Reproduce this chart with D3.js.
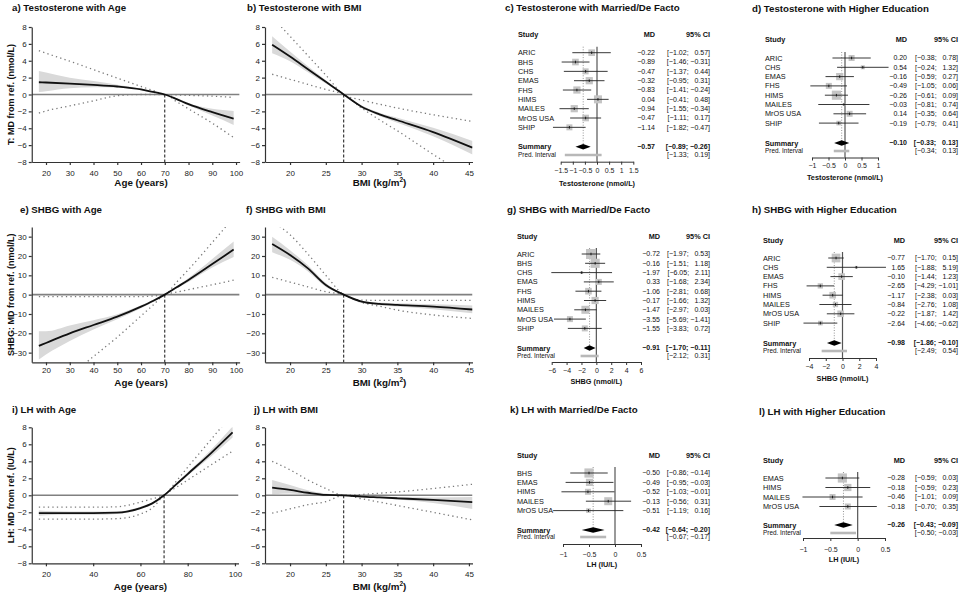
<!DOCTYPE html>
<html>
<head>
<meta charset="utf-8">
<script src="https://cdn.jsdelivr.net/npm/d3@7"></script>
<style>
  body { margin: 0; background: #fff; }
  svg { font-family: "Liberation Sans", Arial, sans-serif; }
</style>
</head>
<body>
<svg id="chart" width="960" height="593"></svg>
<script>
// ---- curve panels (a, b, e, f, i, j) ----
const ageX = [17, 20, 30, 40, 50, 60, 65, 70, 75, 80, 90, 99];
const bmiX = [17.5, 20, 22.5, 25, 27.5, 30, 32.5, 35, 40, 45.5];

const ageTicks = [20, 30, 40, 50, 60, 70, 80, 90, 100];
const ageTicksLH = [20, 40, 60, 80, 100];
const bmiTicks = [20, 25, 30, 35, 40, 45];
const tTicks = [-8, -6, -4, -2, 0, 2, 4, 6, 8];
const shbgTicks = [-30, -20, -10, 0, 10, 20, 30];

// a) Testosterone with Age
const tAgeMean   = [1.45, 1.42, 1.3, 1.15, 0.95, 0.6, 0.3, 0, -0.55, -1.15, -2.1, -2.85];
const tAgeLo     = [0.3, 0.4, 0.75, 0.85, 0.8, 0.5, 0.25, 0, -0.65, -1.3, -2.5, -3.6];
const tAgeHi     = [2.8, 2.6, 2.0, 1.6, 1.15, 0.7, 0.35, 0, -0.45, -1.0, -1.7, -1.95];
const tAgePredLo = [-2.2, -1.95, -1.35, -0.75, -0.15, 0, 0, 0, -0.85, -1.7, -3.4, -5.1];
const tAgePredHi = [5.2, 4.9, 3.95, 2.95, 1.95, 0.95, 0.48, 0, -0.05, -0.1, -0.2, -0.35];

// b) Testosterone with BMI
const tBmiMean   = [5.9, 4.5, 3.0, 1.5, 0, -1.45, -2.35, -3.05, -4.45, -6.3];
const tBmiLo     = [4.9, 3.95, 2.65, 1.3, 0, -1.55, -2.55, -3.35, -4.95, -7.1];
const tBmiHi     = [6.9, 5.1, 3.35, 1.7, 0, -1.3, -2.15, -2.75, -3.95, -5.5];
const tBmiPredLo = [2.4, 1.8, 1.2, 0.6, 0, -1.6, -3.0, -4.3, -7.1, -10];
const tBmiPredHi = [9.2, 6.9, 4.6, 2.3, 0, -0.65, -1.15, -1.6, -2.4, -3.2];

// e) SHBG with Age
const sAgeMean   = [-26.5, -25, -20, -15.7, -11.4, -6.2, -3.3, 0, 3.8, 7.6, 15.8, 23.3];
const sAgeLo     = [-33.5, -31, -24, -18, -12.7, -7, -3.8, 0, 3.2, 6.6, 14, 19.5];
const sAgeHi     = [-19, -19, -16, -13.3, -10.2, -5.5, -2.8, 0, 4.3, 8.6, 18.5, 27.5];
const sAgePredLo = [-55, -52, -42, -32, -22, -11, -5.5, 0, 1.3, 2.6, 5.1, 7.5];
const sAgePredHi = [-1, -1, -1, -1, -1, -1, -0.7, 0, 6.5, 13, 27, 40];

// f) SHBG with BMI
const sBmiMean   = [26.2, 20.5, 13.6, 5, 0, -3.6, -4.8, -5.3, -6.2, -7.7];
const sBmiLo     = [22, 18, 12, 4, 0, -4.1, -5.5, -6.1, -7.5, -9.6];
const sBmiHi     = [30, 23, 15.2, 6, 0, -3.1, -4.1, -4.5, -5, -5.6];
const sBmiPredLo = [9, 6.5, 4, 1.5, 0, -4, -6, -8, -10.5, -12.3];
const sBmiPredHi = [38, 31, 21, 10, 0, -2.8, -3, -3, -3, -3];

// i) LH with Age
const lAgeMean   = [-2.1, -2.1, -2.1, -2.1, -2.05, -1.5, -0.95, 0, 1.25, 2.5, 5.0, 7.4];
const lAgeLo     = [-2.4, -2.35, -2.3, -2.3, -2.2, -1.65, -1.05, 0, 1.1, 2.3, 4.6, 6.8];
const lAgeHi     = [-1.8, -1.85, -1.9, -1.9, -1.9, -1.35, -0.85, 0, 1.4, 2.7, 5.4, 8.1];
const lAgePredLo = [-2.8, -2.8, -2.8, -2.8, -2.75, -2.2, -1.5, 0, 0.9, 1.8, 3.6, 5.2];
const lAgePredHi = [-1.4, -1.4, -1.4, -1.4, -1.35, -0.8, -0.4, 0, 1.6, 3.3, 6.6, 9.6];

// j) LH with BMI
const lBmiMean   = [0.9, 0.63, 0.3, 0.05, 0, -0.15, -0.25, -0.35, -0.55, -0.8];
const lBmiLo     = [0.1, 0.2, 0.05, -0.1, 0, -0.2, -0.35, -0.5, -0.9, -1.6];
const lBmiHi     = [1.8, 1.2, 0.6, 0.2, 0, -0.1, -0.15, -0.2, -0.25, -0.2];
const lBmiPredLo = [-2.1, -1.6, -1.1, -0.75, 0, -0.4, -0.8, -1.2, -2, -2.9];
const lBmiPredHi = [4, 3, 1.8, 0.8, 0, 0.1, 0.25, 0.4, 0.8, 1.3];

// ---- forest panels (c, d, g, h, k, l) ----
const cStudies = ['ARIC', 'BHS', 'CHS', 'EMAS', 'FHS', 'HIMS', 'MAILES', 'MrOS USA', 'SHIP'];
const cMd = [-0.22, -0.89, -0.47, -0.32, -0.83, 0.04, -0.94, -0.47, -1.14];
const cLo = [-1.02, -1.46, -1.37, -0.95, -1.41, -0.41, -1.55, -1.11, -1.82];
const cHi = [0.57, -0.31, 0.44, 0.31, -0.24, 0.48, -0.34, 0.17, -0.47];
const cW  = [11, 11, 9, 13, 13, 16, 13, 11, 9];
const cSummary = [-0.57, -0.89, -0.26];
const cPred = [-1.33, 0.19];
const cTicks = [-1.5, -1, -0.5, 0, 0.5, 1, 1.5];

const dStudies = ['ARIC', 'CHS', 'EMAS', 'FHS', 'HIMS', 'MAILES', 'MrOS USA', 'SHIP'];
const dMd = [0.20, 0.54, -0.16, -0.49, -0.26, -0.03, 0.14, -0.19];
const dLo = [-0.38, -0.24, -0.59, -1.05, -0.61, -0.81, -0.35, -0.79];
const dHi = [0.78, 1.32, 0.27, 0.06, 0.09, 0.74, 0.64, 0.41];
const dW  = [9, 4, 13, 9, 21, 2, 9, 5.5];
const dSummary = [-0.10, -0.33, 0.13];
const dPred = [-0.34, 0.13];
const dTicks = [-1, -0.5, 0, 0.5, 1];

const gStudies = ['ARIC', 'BHS', 'CHS', 'EMAS', 'FHS', 'HIMS', 'MAILES', 'MrOS USA', 'SHIP'];
const gMd = [-0.72, -0.16, -1.97, 0.33, -1.06, -0.17, -1.47, -3.55, -1.55];
const gLo = [-1.97, -1.51, -6.05, -1.68, -2.81, -1.66, -2.97, -5.69, -3.83];
const gHi = [0.53, 1.18, 2.11, 2.34, 0.68, 1.32, 0.03, -1.41, 0.72];
const gW  = [25, 21, 2, 9, 11, 13, 16, 9, 9];
const gSummary = [-0.91, -1.70, -0.11];
const gPred = [-2.12, 0.31];
const gTicks = [-6, -4, -2, 0, 2, 4, 6];

const hStudies = ['ARIC', 'CHS', 'EMAS', 'FHS', 'HIMS', 'MAILES', 'MrOS USA', 'SHIP'];
const hMd = [-0.77, 1.65, -0.10, -2.65, -1.17, -0.84, -0.22, -2.64];
const hLo = [-1.70, -1.88, -1.44, -4.29, -2.38, -2.76, -1.87, -4.66];
const hHi = [0.15, 5.19, 1.23, -1.01, 0.03, 1.08, 1.42, -0.62];
const hW  = [19, 2, 11, 7, 11, 7, 11, 5.5];
const hSummary = [-0.98, -1.86, -0.10];
const hPred = [-2.49, 0.54];
const hTicks = [-4, -2, 0, 2, 4];

const kStudies = ['BHS', 'EMAS', 'HIMS', 'MAILES', 'MrOS USA'];
const kMd = [-0.50, -0.49, -0.52, -0.13, -0.51];
const kLo = [-0.86, -0.95, -1.03, -0.56, -1.19];
const kHi = [-0.14, -0.03, -0.01, 0.31, 0.16];
const kW  = [21, 13, 9, 16, 5.5];
const kSummary = [-0.42, -0.64, -0.20];
const kPred = [-0.67, -0.17];
const kTicks = [-1, -0.5, 0, 0.5];

const lStudies = ['EMAS', 'HIMS', 'MAILES', 'MrOS USA'];
const lMd = [-0.28, -0.18, -0.46, -0.18];
const lLo = [-0.59, -0.59, -1.01, -0.70];
const lHi = [0.03, 0.23, 0.09, 0.35];
const lW  = [21, 13, 9, 9];
const lSummary = [-0.26, -0.43, -0.09];
const lPred = [-0.50, -0.03];
const lTicks = [-1, -0.5, 0, 0.5];

const svg = d3.select('#chart');
const defs = svg.append('defs');
const TITLE_FS = 9.7;

function title(x, y, txt) {
    svg.append('text')
        .attr('x', x).attr('y', y).attr('dy', '0.35em')
        .attr('font-size', TITLE_FS).attr('font-weight', 'bold')
        .attr('fill', '#111')
        .text(txt);
}

function curvePanel(p) {
    const x = d3.scaleLinear().domain(p.xDom).range(p.xRange);
    const y = d3.scaleLinear().domain(p.yDom).range(p.yRange);
    const g = svg.append('g');

    title(p.titleX, p.titleY, p.title);

    defs.append('clipPath').attr('id', 'clip-' + p.id)
        .append('rect')
        .attr('x', p.xRange[0]).attr('y', p.yRange[1])
        .attr('width', p.xRange[1] - p.xRange[0])
        .attr('height', p.yRange[0] - p.yRange[1]);

    const rows = p.xs.map((v, i) => ({
        x: v, m: p.mean[i], lo: p.lo[i], hi: p.hi[i], plo: p.predLo[i], phi: p.predHi[i]
    }));

    const plot = g.append('g').attr('clip-path', `url(#clip-${p.id})`);

    const area = d3.area()
        .x(d => x(d.x)).y0(d => y(d.lo)).y1(d => y(d.hi))
        .curve(d3.curveMonotoneX);
    plot.append('path').datum(rows).attr('d', area).attr('fill', '#d9d9d9');

    // zero reference
    plot.append('line')
        .attr('x1', p.xRange[0]).attr('x2', p.xRange[1])
        .attr('y1', y(0)).attr('y2', y(0))
        .attr('stroke', '#808080').attr('stroke-width', 1.6);

    const lineOf = key => d3.line().x(d => x(d.x)).y(d => y(d[key])).curve(d3.curveMonotoneX);

    ['plo', 'phi'].forEach(k => {
        plot.append('path').datum(rows).attr('d', lineOf(k))
            .attr('fill', 'none').attr('stroke', '#7a7a7a')
            .attr('stroke-width', 1.3).attr('stroke-dasharray', '1.3,3.2');
    });

    // reference value (dashed)
    g.append('line')
        .attr('x1', x(p.ref)).attr('x2', x(p.ref))
        .attr('y1', y(0)).attr('y2', p.yRange[0])
        .attr('stroke', '#111').attr('stroke-width', 1)
        .attr('stroke-dasharray', '3,2');

    plot.append('path').datum(rows).attr('d', lineOf('m'))
        .attr('fill', 'none').attr('stroke', '#111').attr('stroke-width', 1.8);

    // axes
    const xAxis = g.append('g')
        .attr('transform', `translate(0,${p.yRange[0]})`)
        .call(d3.axisBottom(x).tickValues(p.xTicks).tickSize(3).tickSizeOuter(0).tickPadding(p.xPad));
    const yAxis = g.append('g')
        .attr('transform', `translate(${p.xRange[0]},0)`)
        .call(d3.axisLeft(y).tickValues(p.yTicks).tickSize(3).tickSizeOuter(0).tickPadding(2));
    [xAxis, yAxis].forEach(a => {
        a.selectAll('path, line').attr('stroke', '#333').attr('stroke-width', 1.2);
        a.selectAll('text').attr('font-size', 8).attr('fill', '#222')
            .attr('font-family', '"Liberation Sans", Arial, sans-serif');
    });

    const xl = g.append('text')
        .attr('x', (x(p.xTicks[0]) + x(p.xTicks[p.xTicks.length - 1])) / 2)
        .attr('y', p.xLabelY).attr('dy', '0.35em')
        .attr('text-anchor', 'middle').attr('font-size', 9.8).attr('font-weight', 'bold').attr('fill', '#111');
    if (p.bmi) {
        xl.append('tspan').text('BMI (kg/m');
        xl.append('tspan').attr('dy', -4).attr('font-size', 6.5).text('2');
        xl.append('tspan').attr('dy', 4).text(')');
    } else {
        xl.text(p.xLabel);
    }

    if (p.yLabel) {
        g.append('text')
            .attr('transform', `translate(14,${(p.yRange[0] + p.yRange[1]) / 2}) rotate(-90)`)
            .attr('text-anchor', 'middle').attr('font-size', 9).attr('font-weight', 'bold')
            .attr('fill', '#111')
            .text(p.yLabel);
    }
}

const fmt = d3.format('.2f');
const posPad = v => (v >= 0 ? '\u2007' : '') + fmt(v);
const ci = (a, b) => `[${fmt(a)}; ${posPad(b)}]`;
const sqSize = d3.scaleSqrt().domain([0, 25]).range([0, 10]);

function forestPanel(p) {
    const x = d3.scaleLinear().domain(p.dom).range(p.range);
    const g = svg.append('g').attr('fill', '#111');
    const fs = 7.3;
    const rowY = i => p.row0 + i * p.step;
    const top = rowY(0) - 6;

    title(p.titleX, p.titleY, p.title);

    const hdr = g.append('g').attr('font-size', fs).attr('font-weight', 'bold');
    hdr.append('text').attr('x', p.studyX).attr('y', p.headerY).attr('dy', '0.35em').text('Study');
    hdr.append('text').attr('x', p.mdRight).attr('y', p.headerY).attr('dy', '0.35em')
        .attr('text-anchor', 'end').text('MD');
    hdr.append('text').attr('x', p.ciRight).attr('y', p.headerY).attr('dy', '0.35em')
        .attr('text-anchor', 'end').text('95% CI');

    // no-effect line and summary dotted line
    g.append('line')
        .attr('x1', x(0)).attr('x2', x(0)).attr('y1', top).attr('y2', p.axisY)
        .attr('stroke', '#555').attr('stroke-width', 1.2);
    g.append('line')
        .attr('x1', x(p.summary[0])).attr('x2', x(p.summary[0]))
        .attr('y1', top).attr('y2', p.sumY)
        .attr('stroke', '#888').attr('stroke-width', 0.9).attr('stroke-dasharray', '1,1.6');

    const rows = p.studies.map((s, i) => ({
        s, md: p.md[i], lo: p.lo[i], hi: p.hi[i], w: p.w[i], y: rowY(i)
    }));

    const row = g.selectAll('.study').data(rows).enter().append('g').attr('class', 'study');
    row.append('rect')
        .attr('x', d => x(d.md) - sqSize(d.w) / 2)
        .attr('y', d => d.y - sqSize(d.w) / 2)
        .attr('width', d => sqSize(d.w)).attr('height', d => sqSize(d.w))
        .attr('fill', '#c4c4c4');
    row.append('line')
        .attr('x1', d => x(d.lo)).attr('x2', d => x(d.hi))
        .attr('y1', d => d.y).attr('y2', d => d.y)
        .attr('stroke', '#222').attr('stroke-width', 0.9);
    row.append('line')
        .attr('x1', d => x(d.md)).attr('x2', d => x(d.md))
        .attr('y1', d => d.y - 1.3).attr('y2', d => d.y + 1.3)
        .attr('stroke', '#111').attr('stroke-width', 0.9);
    row.append('text')
        .attr('x', p.studyX).attr('y', d => d.y).attr('dy', '0.35em')
        .attr('font-size', fs).text(d => d.s);
    row.append('text')
        .attr('x', p.mdRight).attr('y', d => d.y).attr('dy', '0.35em')
        .attr('text-anchor', 'end').attr('font-size', 7).text(d => fmt(d.md));
    row.append('text')
        .attr('x', p.ciRight).attr('y', d => d.y).attr('dy', '0.35em')
        .attr('text-anchor', 'end').attr('font-size', 7).text(d => ci(d.lo, d.hi));

    // summary diamond
    const [sm, sl, sh] = p.summary;
    g.append('path')
        .attr('d', `M${x(sl)},${p.sumY} L${x(sm)},${p.sumY - 2.8} L${x(sh)},${p.sumY} L${x(sm)},${p.sumY + 2.8} Z`)
        .attr('fill', '#000');
    g.append('text').attr('x', p.studyX).attr('y', p.sumY).attr('dy', '0.35em')
        .attr('font-size', fs).attr('font-weight', 'bold').text('Summary');
    g.append('text').attr('x', p.mdRight).attr('y', p.sumY).attr('dy', '0.35em')
        .attr('text-anchor', 'end').attr('font-size', 7).attr('font-weight', 'bold').text(fmt(sm));
    g.append('text').attr('x', p.ciRight).attr('y', p.sumY).attr('dy', '0.35em')
        .attr('text-anchor', 'end').attr('font-size', 7).attr('font-weight', 'bold').text(ci(sl, sh));

    // prediction interval
    g.append('line')
        .attr('x1', x(p.pred[0])).attr('x2', x(p.pred[1]))
        .attr('y1', p.predY).attr('y2', p.predY)
        .attr('stroke', '#b8b8b8').attr('stroke-width', 2.6);
    g.append('text').attr('x', p.studyX).attr('y', p.predY).attr('dy', '0.35em')
        .attr('font-size', 6.4).text('Pred. Interval');
    g.append('text').attr('x', p.ciRight).attr('y', p.predY).attr('dy', '0.35em')
        .attr('text-anchor', 'end').attr('font-size', 7).text(ci(p.pred[0], p.pred[1]));

    const ax = g.append('g')
        .attr('transform', `translate(0,${p.axisY})`)
        .call(d3.axisBottom(x).tickValues(p.ticks).tickSize(3).tickSizeOuter(0)
            .tickPadding(p.tickPad).tickFormat(d3.format('')));
    ax.selectAll('path, line').attr('stroke', '#333').attr('stroke-width', 1);
    ax.selectAll('text').attr('font-size', 7).attr('fill', '#222')
        .attr('font-family', '"Liberation Sans", Arial, sans-serif');

    g.append('text')
        .attr('x', (p.range[0] + p.range[1]) / 2).attr('y', p.axLabY).attr('dy', '0.35em')
        .attr('text-anchor', 'middle').attr('font-size', fs).attr('font-weight', 'bold')
        .text(p.axLabel);
}

// curve panel layouts
const ageDom = [14, 101.5], ageRange = [31.75, 239.6];
const bmiDom = [16.5, 45.5], bmiRange = [265, 472.5];

curvePanel({ id: 'a', title: 'a) Testosterone with Age', titleX: 12, titleY: 8,
    xs: ageX, mean: tAgeMean, lo: tAgeLo, hi: tAgeHi, predLo: tAgePredLo, predHi: tAgePredHi,
    xDom: ageDom, xRange: ageRange, yDom: [-8, 8], yRange: [162, 27],
    xTicks: ageTicks, yTicks: tTicks, ref: 70, xPad: 5, xLabelY: 183,
    xLabel: 'Age (years)', yLabel: 'T: MD from ref. (nmol/L)' });

curvePanel({ id: 'b', title: 'b) Testosterone with BMI', titleX: 247, titleY: 8,
    xs: bmiX, mean: tBmiMean, lo: tBmiLo, hi: tBmiHi, predLo: tBmiPredLo, predHi: tBmiPredHi,
    xDom: bmiDom, xRange: bmiRange, yDom: [-8, 8], yRange: [162, 27],
    xTicks: bmiTicks, yTicks: tTicks, ref: 27.5, xPad: 5, xLabelY: 183, bmi: true });

curvePanel({ id: 'e', title: 'e) SHBG with Age', titleX: 20, titleY: 210,
    xs: ageX, mean: sAgeMean, lo: sAgeLo, hi: sAgeHi, predLo: sAgePredLo, predHi: sAgePredHi,
    xDom: ageDom, xRange: ageRange, yDom: [-35, 35], yRange: [362.3, 227],
    xTicks: ageTicks, yTicks: shbgTicks, ref: 70, xPad: 2, xLabelY: 383,
    xLabel: 'Age (years)', yLabel: 'SHBG: MD from ref. (nmol/L)' });

curvePanel({ id: 'f', title: 'f) SHBG with BMI', titleX: 246, titleY: 210,
    xs: bmiX, mean: sBmiMean, lo: sBmiLo, hi: sBmiHi, predLo: sBmiPredLo, predHi: sBmiPredHi,
    xDom: bmiDom, xRange: bmiRange, yDom: [-35, 35], yRange: [362.3, 227],
    xTicks: bmiTicks, yTicks: shbgTicks, ref: 27.5, xPad: 2, xLabelY: 383, bmi: true });

curvePanel({ id: 'i', title: 'i) LH with Age', titleX: 12, titleY: 410,
    xs: ageX, mean: lAgeMean, lo: lAgeLo, hi: lAgeHi, predLo: lAgePredLo, predHi: lAgePredHi,
    xDom: ageDom, xRange: [31.75, 238.5], yDom: [-8, 8], yRange: [563.3, 427.3],
    xTicks: ageTicksLH, yTicks: tTicks, ref: 70, xPad: 5, xLabelY: 587,
    xLabel: 'Age (years)', yLabel: 'LH: MD from ref. (IU/L)' });

curvePanel({ id: 'j', title: 'j) LH with BMI', titleX: 254, titleY: 410,
    xs: bmiX, mean: lBmiMean, lo: lBmiLo, hi: lBmiHi, predLo: lBmiPredLo, predHi: lBmiPredHi,
    xDom: bmiDom, xRange: bmiRange, yDom: [-8, 8], yRange: [563.3, 427.3],
    xTicks: bmiTicks, yTicks: tTicks, ref: 27.5, xPad: 5, xLabelY: 587, bmi: true });

// forest panel layouts
forestPanel({ title: 'c) Testosterone with Married/De Facto', titleX: 505, titleY: 8,
    studies: cStudies, md: cMd, lo: cLo, hi: cHi, w: cW, summary: cSummary, pred: cPred, ticks: cTicks,
    dom: [-1.5, 1.5], range: [560.7, 633.3], studyX: 518, headerY: 34, row0: 52.7, step: 9.33,
    sumY: 146.7, predY: 155, axisY: 161.7, tickPad: 3, axLabY: 183, mdRight: 655, ciRight: 710,
    axLabel: 'Testosterone (nmol/L)' });

forestPanel({ title: 'd) Testosterone with Higher Education', titleX: 752, titleY: 9,
    studies: dStudies, md: dMd, lo: dLo, hi: dHi, w: dW, summary: dSummary, pred: dPred, ticks: dTicks,
    dom: [-1, 1], range: [812, 878], studyX: 765, headerY: 39, row0: 58, step: 9.3,
    sumY: 143, predY: 151, axisY: 157.5, tickPad: 3, axLabY: 177, mdRight: 907, ciRight: 958,
    axLabel: 'Testosterone (nmol/L)' });

forestPanel({ title: 'g) SHBG with Married/De Facto', titleX: 507, titleY: 210,
    studies: gStudies, md: gMd, lo: gLo, hi: gHi, w: gW, summary: gSummary, pred: gPred, ticks: gTicks,
    dom: [-6, 6], range: [551.7, 641], studyX: 517, headerY: 236, row0: 254, step: 9.3,
    sumY: 348, predY: 356, axisY: 362, tickPad: 3, axLabY: 381, mdRight: 660, ciRight: 710,
    axLabel: 'SHBG (nmol/L)' });

forestPanel({ title: 'h) SHBG with Higher Education', titleX: 752, titleY: 210,
    studies: hStudies, md: hMd, lo: hLo, hi: hHi, w: hW, summary: hSummary, pred: hPred, ticks: hTicks,
    dom: [-4, 4], range: [809, 876], studyX: 763, headerY: 240, row0: 258, step: 9.3,
    sumY: 343, predY: 351, axisY: 358, tickPad: 3, axLabY: 378, mdRight: 905, ciRight: 958,
    axLabel: 'SHBG (nmol/L)' });

forestPanel({ title: 'k) LH with Married/De Facto', titleX: 510, titleY: 410,
    studies: kStudies, md: kMd, lo: kLo, hi: kHi, w: kW, summary: kSummary, pred: kPred, ticks: kTicks,
    dom: [-1, 0.5], range: [563, 641], studyX: 517, headerY: 455, row0: 473, step: 9.4,
    sumY: 530, predY: 537, axisY: 544, tickPad: 5, axLabY: 564, mdRight: 660, ciRight: 710,
    axLabel: 'LH (IU/L)' });

forestPanel({ title: 'l) LH with Higher Education', titleX: 759, titleY: 412,
    studies: lStudies, md: lMd, lo: lLo, hi: lHi, w: lW, summary: lSummary, pred: lPred, ticks: lTicks,
    dom: [-1, 0.5], range: [803, 885], studyX: 763, headerY: 460, row0: 478, step: 9.5,
    sumY: 525, predY: 533, axisY: 538, tickPad: 6, axLabY: 559, mdRight: 905, ciRight: 958,
    axLabel: 'LH (IU/L)' });
</script>
</body>
</html>
